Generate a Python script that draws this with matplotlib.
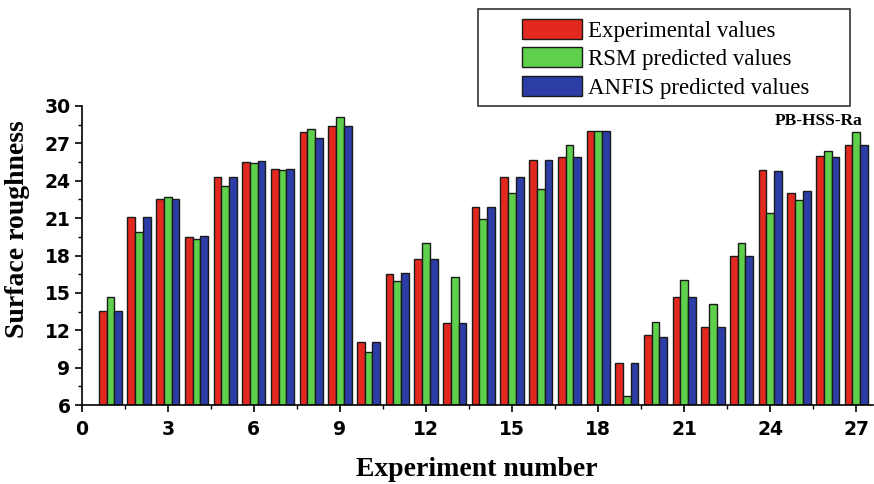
import numpy as np
import matplotlib.pyplot as plt
from matplotlib.ticker import MultipleLocator
from matplotlib.patches import Rectangle

# Surface roughness per experiment run
experiments = np.arange(1, 28)
experimental = [13.55, 21.1, 22.5, 19.5, 24.3, 25.5, 24.95, 27.9, 28.4,
                11.05, 16.5, 17.7, 12.55, 21.9, 24.3, 25.65, 25.9, 28.0,
                9.35, 11.6, 14.7, 12.3, 18.0, 24.85, 23.05, 26.0, 26.9]
rsm_pred = [14.65, 19.85, 22.7, 19.3, 23.6, 25.4, 24.85, 28.15, 29.15,
            10.25, 15.95, 19.0, 16.25, 20.9, 23.05, 23.3, 26.9, 28.0,
            6.75, 12.65, 16.05, 14.1, 19.0, 21.45, 22.45, 26.35, 27.9]
anfis_pred = [13.55, 21.1, 22.5, 19.55, 24.3, 25.55, 24.95, 27.45, 28.4,
              11.05, 16.6, 17.7, 12.55, 21.9, 24.3, 25.65, 25.9, 28.0,
              9.35, 11.5, 14.7, 12.3, 18.0, 24.75, 23.2, 25.9, 26.9]

series_names = ['Experimental values', 'RSM predicted values', 'ANFIS predicted values']
colors = ['#e3291f', '#5fd04c', '#2c3ea6']

fig = plt.figure(figsize=(8.74, 4.84), dpi=100)
ax = fig.add_axes([0.0935, 0.163, 0.905, 0.618])

w = 0.27
handles = []
for i, (vals, name, c) in enumerate(zip([experimental, rsm_pred, anfis_pred], series_names, colors)):
    b = ax.bar(experiments + (i - 1) * w, np.array(vals) - 6, width=w, bottom=6,
               color=c, edgecolor='#1a1a1a', linewidth=1.0, label=name)
    handles.append(b)

ax.set_xlim(0, 27.57)
ax.set_ylim(6, 30)
ax.xaxis.set_major_locator(MultipleLocator(3))
ax.xaxis.set_minor_locator(MultipleLocator(1.5))
ax.yaxis.set_major_locator(MultipleLocator(3))
ax.yaxis.set_minor_locator(MultipleLocator(1.5))
ax.tick_params(which='major', length=5, width=1.2, labelsize=13.5)
ax.tick_params(axis='x', which='major', pad=6)
ax.tick_params(axis='y', which='major', pad=3)
ax.tick_params(which='minor', length=3, width=1.0)
for lab in ax.get_xticklabels() + ax.get_yticklabels():
    lab.set_fontweight('bold')
    lab.set_family('DejaVu Sans')

for s in ['top', 'right']:
    ax.spines[s].set_visible(False)
for s in ['left', 'bottom']:
    ax.spines[s].set_linewidth(1.2)

ax.set_xlabel('Experiment number', family='Liberation Serif', fontweight='bold',
              fontsize=20, labelpad=13)
fig.text(0.02, 0.527, 'Surface roughness', rotation=90, ha='center', va='center',
         family='Liberation Serif', fontweight='bold', fontsize=20)

ax.text(0.987, 0.975, 'PB-HSS-Ra', transform=ax.transAxes, ha='right', va='top',
        family='Liberation Serif', fontweight='bold', fontsize=12.5)

# legend box with wide side padding
fig.patches.append(Rectangle((478 / 874, 1 - 106 / 484), 372 / 874, 97 / 484,
                             transform=fig.transFigure, facecolor='white',
                             edgecolor='#333333', linewidth=1.2, zorder=1))
leg = fig.legend(handles=handles, loc='upper left', bbox_to_anchor=(522 / 874, 1 - 19 / 484),
                 prop={'family': 'Liberation Serif', 'size': 16.5},
                 handlelength=2.6, handleheight=0.95, handletextpad=0.3,
                 labelspacing=0.25, borderpad=0, borderaxespad=0, frameon=False)
leg.set_zorder(2)

fig.savefig('out.png', dpi=100)
